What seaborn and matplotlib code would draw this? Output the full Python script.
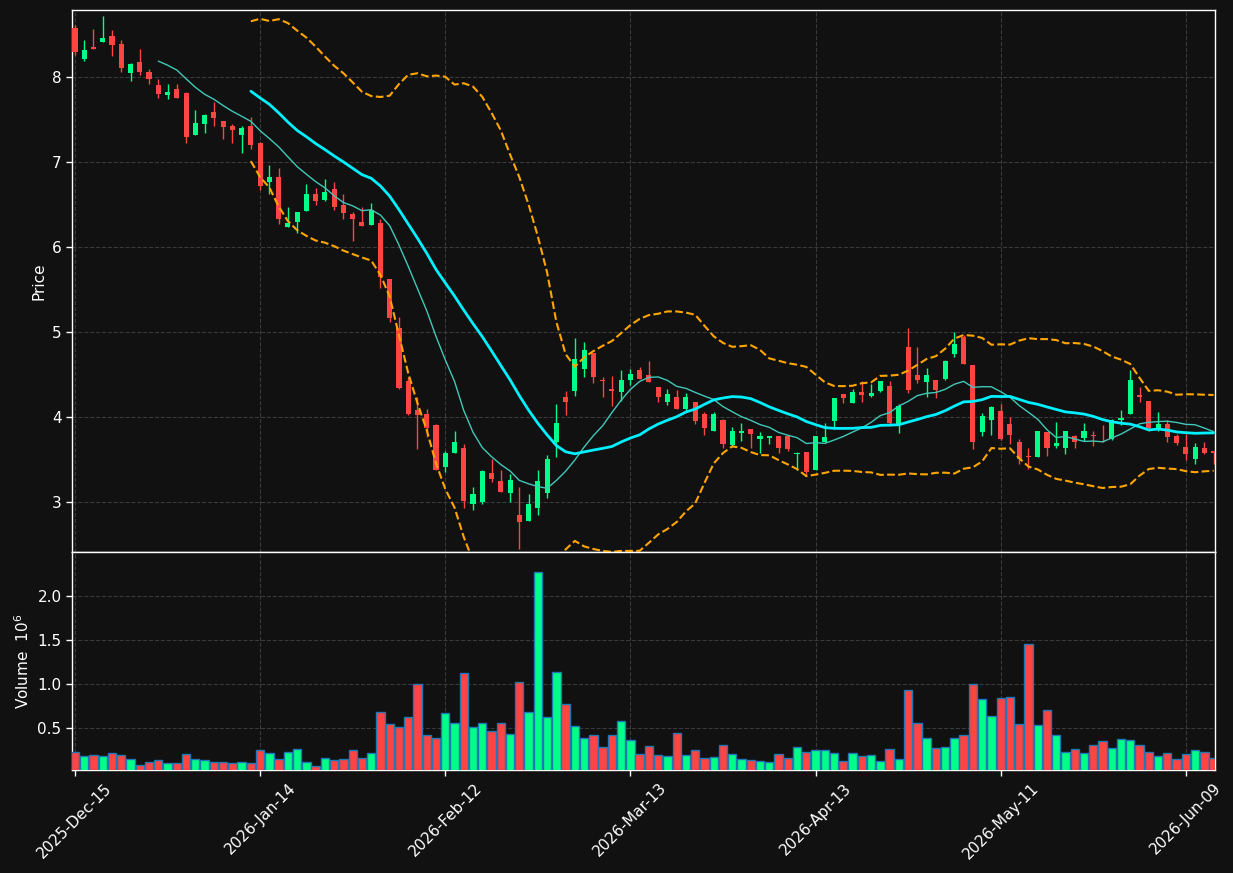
import numpy as np
import pandas as pd
import seaborn as sns
import matplotlib
matplotlib.use("Agg")
import matplotlib.pyplot as plt

# OHLC values (one per trading day)
opens = [8.58, 8.21, 8.35, 8.41, 8.48, 8.39, 8.05, 8.18, 8.06, 7.91,
         7.79, 7.86, 7.81, 7.32, 7.45, 7.59, 7.48, 7.42, 7.32, 7.42,
         7.22, 6.76, 6.82, 6.24, 6.29, 6.43, 6.62, 6.55, 6.68, 6.49,
         6.39, 6.29, 6.26, 6.28, 5.62, 5.05, 4.42, 4.08, 4.04, 3.90,
         3.41, 3.58, 3.64, 2.97, 3.00, 3.34, 3.24, 3.10, 2.85, 2.77,
         2.93, 3.10, 3.70, 4.24, 4.31, 4.56, 4.75, 4.43, 4.33, 4.29,
         4.43, 4.55, 4.49, 4.35, 4.18, 4.23, 4.09, 4.17, 4.03, 3.83,
         3.96, 3.67, 3.81, 3.86, 3.74, 3.75, 3.77, 3.77, 3.56, 3.59,
         3.37, 3.70, 3.95, 4.27, 4.16, 4.29, 4.25, 4.30, 4.36, 3.92,
         4.82, 4.49, 4.41, 4.44, 4.45, 4.74, 4.94, 4.61, 3.82, 3.96,
         4.07, 3.92, 3.71, 3.54, 3.53, 3.82, 3.66, 3.64, 3.77, 3.75,
         3.79, 3.71, 3.74, 3.96, 4.04, 4.26, 4.19, 3.87, 3.92, 3.77,
         3.65, 3.51, 3.64, 3.60]
highs = [8.61, 8.44, 8.57, 8.72, 8.56, 8.44, 8.17, 8.33, 8.10, 7.98,
         7.92, 7.92, 7.83, 7.61, 7.57, 7.71, 7.48, 7.45, 7.43, 7.53,
         7.24, 6.97, 6.93, 6.47, 6.41, 6.74, 6.70, 6.80, 6.77, 6.62,
         6.41, 6.47, 6.52, 6.33, 5.62, 5.18, 4.47, 4.24, 4.09, 3.92,
         3.60, 3.84, 3.68, 3.18, 3.38, 3.50, 3.37, 3.33, 3.18, 3.09,
         3.37, 3.55, 4.15, 4.31, 4.93, 4.88, 4.75, 4.47, 4.48, 4.55,
         4.56, 4.59, 4.66, 4.35, 4.33, 4.32, 4.28, 4.17, 4.06, 4.06,
         3.97, 3.88, 3.93, 3.86, 3.82, 3.78, 3.77, 3.78, 3.59, 3.59,
         3.78, 3.93, 4.22, 4.27, 4.33, 4.42, 4.39, 4.42, 4.42, 4.15,
         5.05, 4.82, 4.58, 4.44, 4.67, 5.00, 4.97, 4.61, 4.05, 4.13,
         4.15, 4.00, 3.74, 3.64, 3.84, 3.82, 3.94, 3.84, 3.79, 3.93,
         3.84, 3.91, 3.98, 4.08, 4.55, 4.35, 4.19, 4.06, 3.96, 3.80,
         3.80, 3.69, 3.70, 3.60]
lows = [8.26, 8.19, 8.33, 8.41, 8.25, 8.06, 7.96, 8.02, 7.92, 7.75,
        7.74, 7.75, 7.22, 7.32, 7.34, 7.43, 7.27, 7.23, 7.11, 7.15,
        6.67, 6.62, 6.27, 6.24, 6.16, 6.43, 6.50, 6.54, 6.44, 6.33,
        6.07, 6.25, 6.26, 5.52, 5.12, 4.33, 4.02, 3.62, 3.76, 3.37,
        3.35, 3.58, 2.93, 2.90, 2.97, 3.23, 3.12, 3.00, 2.44, 2.77,
        2.85, 3.05, 3.53, 4.02, 4.25, 4.47, 4.40, 4.23, 4.13, 4.19,
        4.38, 4.45, 4.41, 4.17, 4.14, 4.09, 4.07, 3.92, 3.79, 3.83,
        3.64, 3.65, 3.72, 3.63, 3.58, 3.68, 3.57, 3.60, 3.38, 3.30,
        3.37, 3.70, 3.86, 4.16, 4.16, 4.18, 4.23, 4.29, 3.89, 3.81,
        4.28, 4.40, 4.24, 4.22, 4.44, 4.71, 4.62, 3.62, 3.77, 3.79,
        3.73, 3.68, 3.45, 3.39, 3.53, 3.54, 3.63, 3.56, 3.63, 3.72,
        3.66, 3.70, 3.73, 3.91, 4.04, 4.18, 3.84, 3.84, 3.71, 3.67,
        3.49, 3.45, 3.56, 3.45]
closes = [8.30, 8.32, 8.33, 8.46, 8.38, 8.11, 8.15, 8.06, 7.98, 7.80,
          7.82, 7.75, 7.30, 7.46, 7.56, 7.52, 7.41, 7.38, 7.40, 7.20,
          6.72, 6.82, 6.33, 6.28, 6.41, 6.62, 6.54, 6.65, 6.47, 6.40,
          6.33, 6.25, 6.44, 5.65, 5.16, 4.34, 4.04, 4.02, 3.87, 3.38,
          3.57, 3.71, 3.01, 3.09, 3.36, 3.27, 3.12, 3.26, 2.76, 2.98,
          3.24, 3.51, 3.93, 4.18, 4.68, 4.79, 4.47, 4.42, 4.31, 4.44,
          4.51, 4.45, 4.41, 4.23, 4.27, 4.09, 4.23, 3.95, 3.87, 4.04,
          3.68, 3.84, 3.83, 3.80, 3.77, 3.77, 3.63, 3.62, 3.58, 3.35,
          3.78, 3.76, 4.22, 4.22, 4.29, 4.26, 4.28, 4.42, 3.93, 4.13,
          4.32, 4.44, 4.49, 4.32, 4.66, 4.86, 4.62, 3.71, 4.01, 4.12,
          3.74, 3.79, 3.51, 3.53, 3.84, 3.63, 3.69, 3.84, 3.71, 3.84,
          3.78, 3.70, 3.96, 3.99, 4.44, 4.24, 3.87, 3.92, 3.76, 3.69,
          3.56, 3.65, 3.57, 3.57]
volumes = [220000, 180000, 190000, 180000, 210000, 190000, 140000, 76000, 110000, 130000,
           100000, 100000, 200000, 140000, 130000, 110000, 110000, 100000, 110000, 100000,
           250000, 210000, 140000, 220000, 260000, 110000, 64000, 155000, 130000, 140000,
           250000, 155000, 210000, 680000, 540000, 510000, 620000, 1000000, 420000, 380000,
           670000, 560000, 1130000, 510000, 560000, 460000, 560000, 430000, 1020000, 680000,
           2280000, 620000, 1140000, 770000, 520000, 390000, 420000, 280000, 420000, 580000,
           360000, 200000, 290000, 190000, 180000, 440000, 190000, 250000, 155000, 170000,
           310000, 200000, 140000, 130000, 120000, 110000, 200000, 155000, 280000, 220000,
           250000, 250000, 210000, 120000, 210000, 180000, 190000, 120000, 260000, 140000,
           930000, 560000, 380000, 270000, 280000, 380000, 420000, 1000000, 830000, 630000,
           840000, 850000, 540000, 1460000, 530000, 700000, 420000, 220000, 260000, 210000,
           310000, 350000, 270000, 370000, 360000, 300000, 230000, 180000, 210000, 140000,
           200000, 250000, 220000, 155000]

holidays = ["2025-12-25", "2026-01-01", "2026-01-19", "2026-02-16", "2026-04-03", "2026-05-25"]
dates = pd.bdate_range("2025-12-15", "2026-06-12", freq="C", holidays=holidays)

df = pd.DataFrame({"Open": opens, "High": highs, "Low": lows, "Close": closes,
                   "Volume": volumes}, index=dates)
df["idx"] = np.arange(len(df))
df["MA10"] = df["Close"].rolling(10).mean()
df["MA20"] = df["Close"].rolling(20).mean()
std20 = df["Close"].rolling(20).std()
df["BB_up"] = df["MA20"] + 2 * std20
df["BB_lo"] = df["MA20"] - 2 * std20

BG = "#111111"
UP = "#00ff88"
DOWN = "#ff4444"

sns.set_theme(style="dark", rc={"axes.facecolor": BG, "figure.facecolor": BG,
                                "axes.edgecolor": "white", "text.color": "white",
                                "axes.labelcolor": "white", "xtick.color": "white",
                                "ytick.color": "white"})
plt.rcParams["font.family"] = ["DejaVu Sans"]

fig = plt.figure(figsize=(12.33, 8.73), dpi=100)
ax1 = fig.add_axes([0.0584, 0.3677, 0.927, 0.6208])
ax2 = fig.add_axes([0.0584, 0.118, 0.927, 0.2497], sharex=ax1)

colors = np.where(df["Close"] >= df["Open"], UP, DOWN)

# candles
body_lo = np.minimum(df["Open"], df["Close"])
body_h = np.maximum(np.abs(df["Close"] - df["Open"]), 0.012)
ax1.vlines(df["idx"], df["Low"], df["High"], colors=colors, lw=1, zorder=2)
ax1.bar(df["idx"], body_h, bottom=body_lo, width=0.55, color=colors, linewidth=0, zorder=3)

# moving averages + bollinger bands
sns.lineplot(x=df["idx"], y=df["MA10"], ax=ax1, color="#40c8b8", lw=1, zorder=4)
sns.lineplot(x=df["idx"], y=df["MA20"], ax=ax1, color="#00f0ff", lw=2, zorder=5)
sns.lineplot(x=df["idx"], y=df["BB_up"], ax=ax1, color="#ffa500", lw=1.5, ls="--", zorder=4)
sns.lineplot(x=df["idx"], y=df["BB_lo"], ax=ax1, color="#ffa500", lw=1.5, ls="--", zorder=4)

# volume
vol = df["Volume"] / 1e6
ax2.bar(df["idx"], vol, width=0.9, color=colors, edgecolor="#1f77b4", linewidth=1, zorder=3)

ax1.set_xlim(-0.32, 123.15)
ax1.set_ylim(2.41, 8.79)
ax2.set_ylim(vol.min() * 0.3, vol.max() * 1.1)

ax1.set_yticks([3, 4, 5, 6, 7, 8])
ax2.set_yticks([0.5, 1.0, 1.5, 2.0])
ax2.set_yticklabels(["0.5", "1.0", "1.5", "2.0"])

tick_pos = list(range(0, len(df), 20))
ax2.set_xticks(tick_pos)
ax2.set_xticklabels([d.strftime("%Y-%b-%d") for d in df.index[tick_pos]],
                    rotation=45, ha="center")

ax1.set_ylabel("Price", fontsize=11)
ax1.set_xlabel("")
ax2.set_ylabel("Volume  $10^{6}$", fontsize=11)
ax2.set_xlabel("")

for ax in (ax1, ax2):
    ax.grid(True, ls="--", color="#3a3a3a", lw=0.8)
    ax.set_axisbelow(True)
    ax.tick_params(axis="both", labelsize=11, colors="white", length=4, width=1,
                   left=True, bottom=True)
    for sp in ax.spines.values():
        sp.set_color("white")
        sp.set_linewidth(1)
ax1.tick_params(axis="x", labelbottom=False)

fig.savefig("out.png", dpi=100, facecolor=BG)
